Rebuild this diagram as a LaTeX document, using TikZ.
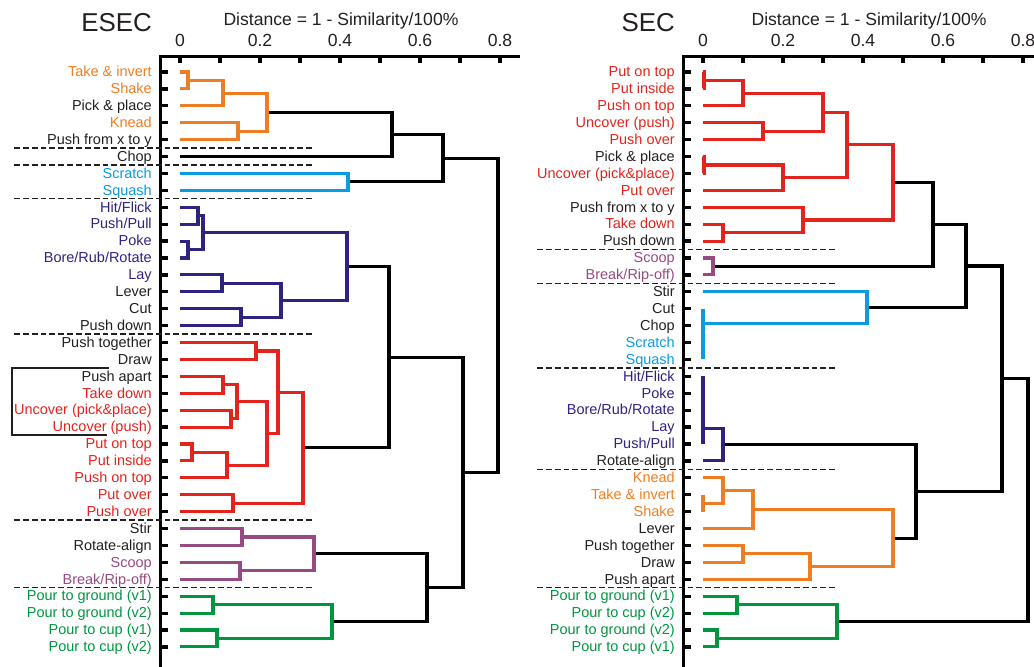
\documentclass[tikz,border=0pt]{standalone}
\usepackage{fontspec}
\setmainfont{Liberation Sans}
\definecolor{ink}{RGB}{35,31,32}
\definecolor{orng}{RGB}{238,125,35}
\definecolor{rd}{RGB}{226,36,28}
\definecolor{sky}{RGB}{10,155,225}
\definecolor{navy}{RGB}{46,36,128}
\definecolor{plum}{RGB}{150,74,130}
\definecolor{grn}{RGB}{0,150,64}

\begin{document}
\begin{tikzpicture}[
  x=10cm, y=-0.42275cm,
  lbl/.style={anchor=base east, inner sep=0pt, font=\fontsize{10.3}{12}\selectfont},
  ttl/.style={anchor=base east, inner sep=0pt, text=ink, font=\fontsize{18.4}{20}\selectfont},
  axlbl/.style={anchor=base, inner sep=0pt, text=ink, font=\fontsize{12.5}{14}\selectfont},
  ticklbl/.style={anchor=base, inner sep=0pt, text=ink, font=\fontsize{12.5}{14}\selectfont},
  axln/.style={line width=2.3pt, draw=black},
  lnk/.style={line width=2.2pt},
  divide/.style={draw=ink, line width=0.9pt, dash pattern=on 4.2pt off 2.1pt},
]
\useasboundingbox (-0.45,-3.258) rectangle (2.135,36.128);

% ESEC
\node[ttl]   (tE) at (-0.07,-1.38)  {ESEC};
\node[axlbl] (dE) at (0.4025,-1.72) {Distance = 1 - Similarity/100\%};
\draw[axln] (0.85,0.1) -- (-0.048,0.1) -- (-0.048,36.2);
\foreach \k in {0,...,8} \draw[axln] (\k/10,0.1) -- (\k/10,0.47);
\foreach \v [count=\j] in {0,0.2,0.4,0.6,0.8} \node[ticklbl] (te\j) at (\v,-0.48) {\v};

\foreach \t/\c [count=\i] in {Take \& invert/orng, Shake/orng, Pick \& place/ink,
    Knead/orng, Push from x to y/ink, Chop/ink, Scratch/sky, Squash/sky,
    {Hit/Flick}/navy, {Push/Pull}/navy, Poke/navy, {Bore/Rub/Rotate}/navy, Lay/navy,
    Lever/ink, Cut/ink, Push down/ink, Push together/ink, Draw/ink, Push apart/ink,
    Take down/rd, Uncover (pick\&place)/rd, Uncover (push)/rd, Put on top/rd,
    Put inside/rd, Push on top/rd, Put over/rd, Push over/rd, Stir/ink,
    Rotate-align/ink, Scoop/plum, {Break/Rip-off)}/plum, Pour to ground (v1)/grn,
    Pour to ground (v2)/grn, Pour to cup (v1)/grn, Pour to cup (v2)/grn}{
  \node[lbl, text=\c] (le\i) at (-0.07,\i+0.28) {\t};
  \coordinate (e\i) at (0,\i);
  \draw[axln] (-0.048,\i) -- (-0.03,\i);
}

\foreach \r in {5.5,6.5,8.5,16.5,27.5,31.5} \draw[divide] (-0.415,\r) -- (0.3325,\r);
\draw[ink, line width=1.4pt] (-0.1775,18.52) -- (-0.42,18.52) -- (-0.42,22.47) -- (-0.1825,22.47);

\coordinate (o1) at (0.02,1.5);     \coordinate (o2) at (0.1075,2.25);
\coordinate (o3) at (0.145,4.5);    \coordinate (o4) at (0.2175,3.375);
\coordinate (b1) at (0.42,7.5);
\coordinate (n1) at (0.045,9.5);    \coordinate (n2) at (0.02,11.5);
\coordinate (n3) at (0.0575,10.5);  \coordinate (n4) at (0.105,13.5);
\coordinate (n5) at (0.1525,15.5);  \coordinate (n6) at (0.2525,14.5);
\coordinate (n7) at (0.4175,12.5);
\coordinate (r1) at (0.19,17.5);    \coordinate (r2) at (0.1075,19.5);
\coordinate (r3) at (0.1275,21.5);  \coordinate (r4) at (0.1425,20.5);
\coordinate (r5) at (0.03,23.5);    \coordinate (r6) at (0.1175,24.25);
\coordinate (r7) at (0.2175,22.375); \coordinate (r8) at (0.245,19.9375);
\coordinate (r9) at (0.1325,26.5);  \coordinate (r10) at (0.3075,23.22);
\coordinate (p1) at (0.155,28.5);   \coordinate (p2) at (0.15,30.5);
\coordinate (p3) at (0.335,29.5);
\coordinate (g1) at (0.0825,32.5);  \coordinate (g2) at (0.0925,34.5);
\coordinate (g3) at (0.38,33.5);
\coordinate (k1) at (0.53,4.6875);  \coordinate (k2) at (0.6575,6.09);
\coordinate (k3) at (0.5225,17.86); \coordinate (k4) at (0.6175,31.5);
\coordinate (k5) at (0.7075,24.68); \coordinate (k6) at (0.795,15.39);

\begin{scope}[lnk, draw=black]
  \draw (o4) -| (k1) |- (e6);   \draw (k1) -| (k2) |- (b1);
  \draw (n7) -| (k3) |- (r10);  \draw (p3) -| (k4) |- (g3);
  \draw (k3) -| (k5) |- (k4);   \draw (k2) -| (k6) |- (k5);
\end{scope}
\begin{scope}[lnk, draw=orng]
  \draw (e1) -| (o1) |- (e2);   \draw (o1) -| (o2) |- (e3);
  \draw (e4) -| (o3) |- (e5);   \draw (o2) -| (o4) |- (o3);
\end{scope}
\draw[lnk, sky] (e7) -| (b1) |- (e8);
\begin{scope}[lnk, draw=navy]
  \draw (e9) -| (n1) |- (e10);  \draw (e11) -| (n2) |- (e12);
  \draw (n1) -| (n3) |- (n2);   \draw (e13) -| (n4) |- (e14);
  \draw (e15) -| (n5) |- (e16); \draw (n4) -| (n6) |- (n5);
  \draw (n3) -| (n7) |- (n6);
\end{scope}
\begin{scope}[lnk, draw=rd]
  \draw (e17) -| (r1) |- (e18); \draw (e19) -| (r2) |- (e20);
  \draw (e21) -| (r3) |- (e22); \draw (r2) -| (r4) |- (r3);
  \draw (e23) -| (r5) |- (e24); \draw (r5) -| (r6) |- (e25);
  \draw (r4) -| (r7) |- (r6);   \draw (r1) -| (r8) |- (r7);
  \draw (e26) -| (r9) |- (e27); \draw (r8) -| (r10) |- (r9);
\end{scope}
\begin{scope}[lnk, draw=plum]
  \draw (e28) -| (p1) |- (e29); \draw (e30) -| (p2) |- (e31);
  \draw (p1) -| (p3) |- (p2);
\end{scope}
\begin{scope}[lnk, draw=grn]
  \draw (e32) -| (g1) |- (e33); \draw (e34) -| (g2) |- (e35);
  \draw (g1) -| (g3) |- (g2);
\end{scope}

% SEC
\begin{scope}[xshift=13.075cm]
\node[ttl]   (tS) at (-0.07,-1.38) {SEC};
\node[axlbl] (dS) at (0.415,-1.72) {Distance = 1 - Similarity/100\%};
\draw[axln] (0.84,0.1) -- (-0.048,0.1) -- (-0.048,36.2);
\foreach \k in {0,...,8} \draw[axln] (\k/10,0.1) -- (\k/10,0.47);
\foreach \v [count=\j] in {0,0.2,0.4,0.6,0.8} \node[ticklbl] (ts\j) at (\v,-0.48) {\v};

\foreach \t/\c [count=\i] in {Put on top/rd, Put inside/rd, Push on top/rd,
    Uncover (push)/rd, Push over/rd, Pick \& place/ink, Uncover (pick\&place)/rd,
    Put over/rd, Push from x to y/ink, Take down/rd, Push down/ink, Scoop/plum,
    {Break/Rip-off)}/plum, Stir/ink, Cut/ink, Chop/ink, Scratch/sky, Squash/sky,
    {Hit/Flick}/navy, Poke/navy, {Bore/Rub/Rotate}/navy, Lay/navy, {Push/Pull}/navy,
    Rotate-align/ink, Knead/orng, Take \& invert/orng, Shake/orng, Lever/ink,
    Push together/ink, Draw/ink, Push apart/ink, Pour to ground (v1)/grn,
    Pour to cup (v2)/grn, Pour to ground (v2)/grn, Pour to cup (v1)/grn}{
  \node[lbl, text=\c] (ls\i) at (-0.07,\i+0.28) {\t};
  \coordinate (s\i) at (0,\i);
  \draw[axln] (-0.048,\i) -- (-0.03,\i);
}

\foreach \r in {11.5,13.5,18.5,24.5,31.5} \draw[divide] (-0.415,\r) -- (0.3325,\r);

\coordinate (R1) at (0.0025,1.5);   \coordinate (R2) at (0.1,2.25);
\coordinate (R3) at (0.15,4.5);     \coordinate (R4) at (0.3,3.375);
\coordinate (R5) at (0.0025,6.5);   \coordinate (R6) at (0.2,7.25);
\coordinate (R7) at (0.36,5.3125);  \coordinate (R8) at (0.05,10.5);
\coordinate (R9) at (0.25,9.75);    \coordinate (R10) at (0.475,7.53);
\coordinate (P1) at (0.025,12.5);
\coordinate (C0) at (0,15.85);      \coordinate (C1) at (0.41,14.93);
\coordinate (N0) at (0,22.1);       \coordinate (N1) at (0.05,23.05);
\coordinate (O0) at (0,26.5);       \coordinate (O1) at (0.05,25.75);
\coordinate (O2) at (0.125,26.875); \coordinate (O3) at (0.1,29.5);
\coordinate (O4) at (0.2675,30.25); \coordinate (O5) at (0.475,28.5625);
\coordinate (G1) at (0.085,32.5);   \coordinate (G2) at (0.035,34.5);
\coordinate (G3) at (0.335,33.5);
\coordinate (K1) at (0.575,10.016); \coordinate (K2) at (0.6575,12.47);
\coordinate (K3) at (0.5325,25.81); \coordinate (K4) at (0.7475,19.14);
\coordinate (K5) at (0.8125,26.32);

\begin{scope}[lnk, draw=black]
  \draw (R10) -| (K1) |- (P1);  \draw (K1) -| (K2) |- (C1);
  \draw (N1) -| (K3) |- (O5);   \draw (K2) -| (K4) |- (K3);
  \draw (K4) -| (K5) |- (G3);
\end{scope}
\begin{scope}[lnk, draw=rd]
  \draw (s1) -| (R1) |- (s2);   \draw (R1) -| (R2) |- (s3);
  \draw (s4) -| (R3) |- (s5);   \draw (R2) -| (R4) |- (R3);
  \draw (s6) -| (R5) |- (s7);   \draw (R5) -| (R6) |- (s8);
  \draw (R4) -| (R7) |- (R6);   \draw (s10) -| (R8) |- (s11);
  \draw (s9) -| (R9) |- (R8);   \draw (R7) -| (R10) |- (R9);
\end{scope}
\draw[lnk, plum] (s12) -| (P1) |- (s13);
\begin{scope}[lnk, draw=sky]
  \draw (s15) -- (s18);         \draw (s14) -| (C1) |- (C0);
\end{scope}
\begin{scope}[lnk, draw=navy]
  \draw (s19) -- (s23);         \draw (N0) -| (N1) |- (s24);
\end{scope}
\begin{scope}[lnk, draw=orng]
  \draw (s26) -- (s27);         \draw (s25) -| (O1) |- (O0);
  \draw (O1) -| (O2) |- (s28);  \draw (s29) -| (O3) |- (s30);
  \draw (O3) -| (O4) |- (s31);  \draw (O2) -| (O5) |- (O4);
\end{scope}
\begin{scope}[lnk, draw=grn]
  \draw (s32) -| (G1) |- (s33); \draw (s34) -| (G2) |- (s35);
  \draw (G1) -| (G3) |- (G2);
\end{scope}
\end{scope}

\end{tikzpicture}
\end{document}
